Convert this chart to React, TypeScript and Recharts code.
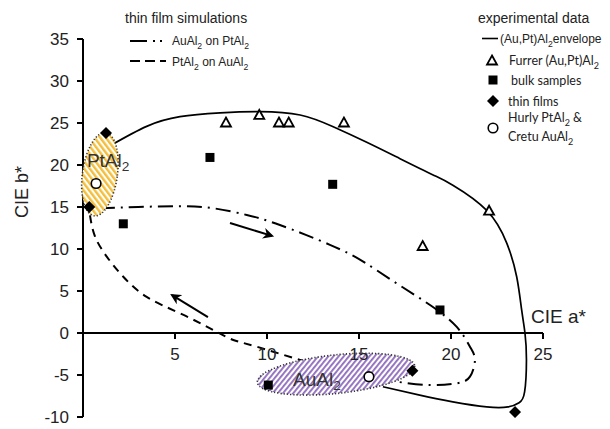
import { ComposedChart, XAxis, YAxis, Line, Scatter, ReferenceLine } from 'recharts';

// CIE a*, b* colour coordinates read from the figure
const envelope = [
  { a: 1.56, b: 22.4 }, { a: 3.46, b: 24.6 }, { a: 5.27, b: 25.75 }, { a: 7.45, b: 26.2 },
  { a: 9.62, b: 26.35 }, { a: 11.8, b: 25.95 }, { a: 13.6, b: 24.55 }, { a: 15.42, b: 22.7 },
  { a: 17.23, b: 20.75 }, { a: 19.0, b: 18.85 }, { a: 20.1, b: 17.6 }, { a: 21.94, b: 14.6 },
  { a: 23.03, b: 10.7 }, { a: 23.57, b: 6.7 }, { a: 23.84, b: 2.74 }, { a: 24.02, b: 0 },
  { a: 24.1, b: -3.2 }, { a: 24.0, b: -7.0 }, { a: 23.7, b: -8.3 }, { a: 23.1, b: -8.8 },
  { a: 21.94, b: -8.8 }, { a: 20.1, b: -8.2 }, { a: 18.3, b: -7.4 }, { a: 16.3, b: -6.4 },
];

const auOnPt = [
  { a: 0.92, b: 14.85 }, { a: 3.0, b: 15.0 }, { a: 5.27, b: 15.1 }, { a: 7.08, b: 14.85 },
  { a: 8.9, b: 14.05 }, { a: 10.7, b: 12.86 }, { a: 13.42, b: 10.5 }, { a: 15.23, b: 8.5 },
  { a: 17.05, b: 5.9 }, { a: 18.86, b: 3.33 }, { a: 20.3, b: 0.75 }, { a: 21.03, b: -1.63 },
  { a: 21.3, b: -3.2 }, { a: 21.03, b: -5.2 }, { a: 20.3, b: -6.0 }, { a: 18.86, b: -6.2 },
  { a: 17.05, b: -5.8 },
];

const ptOnAu = [
  { a: 0.38, b: 14.0 }, { a: 0.65, b: 11.5 }, { a: 1.29, b: 9.1 }, { a: 2.19, b: 6.7 },
  { a: 3.46, b: 4.3 }, { a: 5.27, b: 2.35 }, { a: 7.08, b: 0.36 }, { a: 8.17, b: -0.83 },
  { a: 9.44, b: -1.63 }, { a: 11.8, b: -3.2 }, { a: 13.6, b: -4.1 }, { a: 15.42, b: -4.9 },
  { a: 16.3, b: -5.4 },
];

const furrer = [
  { a: 7.77, b: 25.0 }, { a: 9.58, b: 25.9 }, { a: 10.65, b: 25.0 }, { a: 11.18, b: 25.0 },
  { a: 14.18, b: 25.0 }, { a: 18.46, b: 10.3 }, { a: 22.07, b: 14.5 },
];

const bulk = [
  { a: 6.9, b: 20.9 }, { a: 13.57, b: 17.7 }, { a: 2.19, b: 13.0 }, { a: 19.4, b: 2.74 },
  { a: 10.07, b: -6.2 },
];

const thinFilms = [
  { a: 1.25, b: 23.8 }, { a: 0.34, b: 15.0 }, { a: 17.9, b: -4.5 }, { a: 23.48, b: -9.4 },
];

const literature = [
  { a: 0.71, b: 17.8 }, { a: 15.54, b: -5.2 },
];

const phases = [
  { name: 'PtAl_2', a: 0.92, b: 18.9, spreadA: 0.95, spreadB: 5.0 },
  { name: 'AuAl_2', a: 13.75, b: -4.9, spreadA: 4.3, spreadB: 2.3 },
];

const arrowAuOnPt = [{ a: 7.99, b: 13.1 }, { a: 10.27, b: 11.56 }];
const arrowPtOnAu = [{ a: 6.79, b: 1.9 }, { a: 4.84, b: 4.52 }];

const xTicks = [5, 10, 15, 20, 25];
const yTicks = [-10, -5, 0, 5, 10, 15, 20, 25, 30, 35];

const W = 610;
const H = 429;
const MARGIN = { top: 39, right: 67, bottom: 12, left: 0 };
const Y_AXIS_W = 83;
const PPU_X = (W - MARGIN.left - MARGIN.right - Y_AXIS_W) / 25;
const PPU_Y = (H - MARGIN.top - MARGIN.bottom) / 45;
const FONT = '"Liberation Sans", Arial, sans-serif';
const FONT2 = 'Lato, "Open Sans", sans-serif';

const phaseStyle: Record<string, { fill: string; rot: number; dx: number; dy: number }> = {
  PtAl_2: { fill: 'url(#hatchPt)', rot: 8, dx: -13, dy: -7 },
  AuAl_2: { fill: 'url(#hatchAu)', rot: -6, dx: -43, dy: 12 },
};

// "PtAl_2" -> PtAl with subscript 2
const Chem = ({ s }: { s: string }) => {
  const parts = s.split(/_(\d)/);
  return (
    <>
      {parts.map((p, i) =>
        i % 2 === 1 ? (
          <tspan key={i} dy={4} fontSize="0.72em">{p}</tspan>
        ) : (
          <tspan key={i} dy={i > 0 ? -4 : 0}>{p}</tspan>
        )
      )}
    </>
  );
};

const Triangle = ({ cx, cy }: any) => (
  <path d={`M${cx},${cy - 5.5} L${cx + 5},${cy + 3.5} L${cx - 5},${cy + 3.5} Z`} fill="#fff" stroke="#000" strokeWidth={1.8} />
);
const Square = ({ cx, cy }: any) => <rect x={cx - 4.5} y={cy - 4.5} width={9} height={9} fill="#000" />;
const Diamond = ({ cx, cy }: any) => (
  <path d={`M${cx},${cy - 6} L${cx + 6},${cy} L${cx},${cy + 6} L${cx - 6},${cy} Z`} fill="#000" />
);
const Circle = ({ cx, cy }: any) => <circle cx={cx} cy={cy} r={4.8} fill="#fff" stroke="#000" strokeWidth={1.6} />;

const PhaseEllipse = (p: any) => {
  const st = phaseStyle[p.payload.name];
  return (
    <g>
      <ellipse
        cx={p.cx}
        cy={p.cy}
        rx={p.payload.spreadA * PPU_X}
        ry={p.payload.spreadB * PPU_Y}
        transform={`rotate(${st.rot} ${p.cx} ${p.cy})`}
        fill={st.fill}
        stroke="#333"
        strokeWidth={1.6}
        strokeDasharray="1.2 2"
      />
      <text x={p.cx + st.dx} y={p.cy + st.dy} fontSize={19} fontFamily={FONT} fill="#333">
        <Chem s={p.payload.name} />
      </text>
    </g>
  );
};

const XTick = ({ cx, cy, payload }: any) => (
  <g>
    <line x1={cx} y1={cy} x2={cx} y2={cy + 6} stroke="#000" strokeWidth={2} />
    <text x={cx} y={cy + 27} textAnchor="middle" fontSize={17} fontFamily={FONT} fill="#222">
      {payload.a}
    </text>
  </g>
);

export default function App() {
  return (
    <div style={{ position: 'absolute', left: 0, top: 0, background: '#fff' }}>
      <ComposedChart width={W} height={H} margin={MARGIN}>
        <defs>
          <pattern id="hatchPt" width="4.5" height="4.5" patternUnits="userSpaceOnUse" patternTransform="rotate(-45)">
            <rect width="4.5" height="4.5" fill="#fff" />
            <rect width="2.4" height="4.5" fill="#F5BE3A" />
          </pattern>
          <pattern id="hatchAu" width="4" height="4" patternUnits="userSpaceOnUse" patternTransform="rotate(45)">
            <rect width="4" height="4" fill="#fff" />
            <rect width="1.9" height="4" fill="#9270C0" />
          </pattern>
          <marker id="arrowHead" viewBox="0 0 10 10" refX="8" refY="5" markerWidth="5.5" markerHeight="5.5" orient="auto" markerUnits="strokeWidth">
            <path d="M0,0 L10,5 L0,10 L3,5 Z" fill="#000" />
          </marker>
        </defs>
        <XAxis type="number" dataKey="a" domain={[0, 25]} hide />
        <YAxis
          type="number"
          dataKey="b"
          domain={[-10, 35]}
          ticks={yTicks}
          width={Y_AXIS_W}
          tickSize={6}
          tickMargin={8}
          axisLine={{ stroke: '#000', strokeWidth: 2 }}
          tickLine={{ stroke: '#000', strokeWidth: 2 }}
          tick={{ fontSize: 17, fill: '#222', fontFamily: FONT }}
        />
        <Scatter data={phases} dataKey="b" shape={PhaseEllipse} isAnimationActive={false} />
        <ReferenceLine y={0} stroke="#000" strokeWidth={2} />
        <Scatter data={xTicks.map((a) => ({ a, b: 0 }))} dataKey="b" shape={XTick} isAnimationActive={false} />
        <Line data={envelope} dataKey="b" type="natural" stroke="#000" strokeWidth={1.7} dot={false} isAnimationActive={false} />
        <Line data={auOnPt} dataKey="b" type="natural" stroke="#000" strokeWidth={2} strokeDasharray="15 6 2 6" dot={false} isAnimationActive={false} />
        <Line data={ptOnAu} dataKey="b" type="natural" stroke="#000" strokeWidth={2} strokeDasharray="8 6" dot={false} isAnimationActive={false} />
        <Line data={arrowAuOnPt} dataKey="b" type="linear" stroke="#000" strokeWidth={2} dot={false} markerEnd="url(#arrowHead)" isAnimationActive={false} />
        <Line data={arrowPtOnAu} dataKey="b" type="linear" stroke="#000" strokeWidth={2} dot={false} markerEnd="url(#arrowHead)" isAnimationActive={false} />
        <Scatter data={furrer} dataKey="b" shape={Triangle} isAnimationActive={false} />
        <Scatter data={bulk} dataKey="b" shape={Square} isAnimationActive={false} />
        <Scatter data={thinFilms} dataKey="b" shape={Diamond} isAnimationActive={false} />
        <Scatter data={literature} dataKey="b" shape={Circle} isAnimationActive={false} />

        <text x={531} y={323} fontSize={19} fontFamily={FONT} fill="#222">CIE a*</text>
        <text x={28} y={192} fontSize={18} fontFamily={FONT} fill="#222" textAnchor="middle" transform="rotate(-90 28 192)">CIE b*</text>

        <g fontFamily={FONT} fill="#222">
          <text x={125} y={23} fontSize={14}>thin film simulations</text>
          <line x1={130} y1={41} x2={147} y2={41} stroke="#000" strokeWidth={2} />
          <rect x={153} y={40} width={2} height={2} fill="#000" />
          <rect x={160} y={40} width={2} height={2} fill="#000" />
          <text x={172} y={45} fontSize={12}><Chem s="AuAl_2 on PtAl_2" /></text>
          <line x1={130} y1={61} x2={166} y2={61} stroke="#000" strokeWidth={2} strokeDasharray="10 5" />
          <text x={172} y={66} fontSize={12}><Chem s="PtAl_2 on AuAl_2" /></text>

          <text x={478} y={23} fontSize={14}>experimental data</text>
          <line x1={482} y1={38.5} x2={498} y2={38.5} stroke="#000" strokeWidth={1.6} />
          <text x={500} y={43} fontSize={12}><Chem s="(Au,Pt)Al_2envelope" /></text>
        </g>
        <g fontFamily={FONT2} fill="#222" fontSize={12.5}>
          <Triangle cx={492} cy={61} />
          <text x={509} y={65}><Chem s="Furrer (Au,Pt)Al_2" /></text>
          <Square cx={493} cy={80} />
          <text x={511} y={85}>bulk samples</text>
          <Diamond cx={493} cy={101} />
          <text x={508} y={106}>thin films</text>
          <Circle cx={493} cy={128} />
          <text x={508} y={122}><Chem s="Hurly PtAl_2 &" /></text>
          <text x={508} y={141}><Chem s="Cretu AuAl_2" /></text>
        </g>
      </ComposedChart>
    </div>
  );
}
